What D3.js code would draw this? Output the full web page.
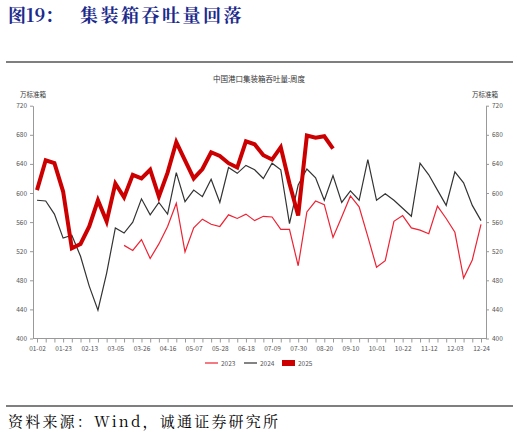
<!DOCTYPE html>
<html><head><meta charset="utf-8">
<script src="https://cdn.jsdelivr.net/npm/d3@7"></script>
<style>body{margin:0;background:#fff}</style>
</head><body>
<script>
var w = 519, h = 437;

// weekly dates (2024 calendar), 52 weeks
var parse = d3.timeParse("%Y-%m-%d"), fmt = d3.timeFormat("%m-%d");
var weeks = d3.range(52).map(function(i){ return fmt(d3.timeDay.offset(parse("2024-01-02"), i*7)); });
var yTicks = [400, 440, 480, 520, 560, 600, 640, 680, 720];

var s2023 = [null,null,null,null,null,null,null,null,null,null,
  528,521,536,510,530,554,586,519,552,564,557,554,570,565,571,562,568,567,550,550,
  500,574,589,584,539,567,596,581,540,498,507,561,569,552,549,544,582,565,546,483,508,557];
var s2024 = [590,589,571,538,542,513,472,439,490,552,545,560,592,570,587,571,628,588,604,595,
  619,587,635,627,638,632,620,641,632,558,611,633,621,590,624,587,603,590,646,590,
  599,590,579,568,641,625,604,583,629,614,583,562];
var s2025 = [604,645,641,602,524,530,554,590,561,613,594,625,620,632,595,628,670,645,620,633,
  656,651,641,635,671,667,652,646,663,613,569,679,676,678,661];

var svg = d3.select("body").append("svg").attr("width", w).attr("height", h);

var serif = "Noto Serif CJK SC, Noto Sans CJK SC, serif";
svg.append("text").attr("x", 8).attr("y", 22)
  .attr("font-family", serif).attr("font-weight", "bold").attr("font-size", 18).attr("fill", "#1c2a8c")
  .call(function(t){
    t.append("tspan").text("图19：");
    t.append("tspan").attr("x", 80).attr("letter-spacing", 2.5).text("集装箱吞吐量回落");
  });

svg.append("line").attr("x1", 6).attr("x2", 513).attr("y1", 62).attr("y2", 62)
  .attr("stroke", "#000").attr("stroke-width", 1.2);
svg.append("line").attr("x1", 6).attr("x2", 513).attr("y1", 406).attr("y2", 406)
  .attr("stroke", "#000").attr("stroke-width", 1.2);

svg.append("text").text("资料来源：Wind，诚通证券研究所")
  .attr("x", 8).attr("y", 427).attr("letter-spacing", 2.2)
  .attr("font-family", serif).attr("font-size", 15).attr("fill", "#000");

var x = d3.scalePoint().domain(weeks).range([37, 481]);
var y = d3.scaleLinear().domain([400, 720]).range([338.5, 105.7]);

var sans = "Noto Sans CJK SC, sans-serif";
svg.append("text").text("中国港口集装箱吞吐量:周度").attr("x", 259).attr("y", 82)
  .attr("text-anchor", "middle").attr("font-family", sans).attr("font-size", 7.5).attr("fill", "#333");
svg.append("text").text("万标准箱").attr("x", 20).attr("y", 97)
  .attr("font-family", sans).attr("font-size", 6.5).attr("fill", "#333");
svg.append("text").text("万标准箱").attr("x", 472).attr("y", 97)
  .attr("font-family", sans).attr("font-size", 6.5).attr("fill", "#333");

function styleAxis(g){
  g.selectAll("path,line").attr("stroke", "#999");
  g.selectAll("text").attr("fill", "#555").attr("font-size", 6.5).attr("font-family", sans);
}
svg.append("g").attr("transform", "translate(33,0)")
  .call(d3.axisLeft(y).tickValues(yTicks).tickSize(3).tickSizeOuter(0)).call(styleAxis);
svg.append("g").attr("transform", "translate(486,0)")
  .call(d3.axisRight(y).tickValues(yTicks).tickSize(3).tickSizeOuter(0)).call(styleAxis);
var xa = svg.append("g").attr("transform", "translate(0,338.5)")
  .call(d3.axisBottom(x).tickSize(4).tickFormat(function(d, i){ return i % 3 === 0 ? d : ""; }))
  .call(styleAxis);
xa.select(".domain").attr("d", "M33,0H486");
xa.selectAll("text").attr("dy", "0.9em");

var line = d3.line().defined(function(d){ return d != null; })
  .x(function(d, i){ return x(weeks[i]); }).y(function(d){ return y(d); });

var series = [
  {name: "2023", data: s2023, color: "#ee2233", width: 1.2},
  {name: "2024", data: s2024, color: "#333333", width: 1.2},
  {name: "2025", data: s2025, color: "#cc0000", width: 4}
];
series.forEach(function(s){
  svg.append("path").datum(s.data).attr("d", line).attr("fill", "none")
    .attr("stroke", s.color).attr("stroke-width", s.width).attr("stroke-linejoin", "miter");
});

var lg = svg.append("g").selectAll("g").data(series).enter().append("g")
  .attr("transform", function(d, i){ return "translate(" + [205, 244, 282][i] + ",363)"; });
lg.append("rect").attr("x", 0).attr("y", function(d){ return d.width > 2 ? -3 : -0.6; })
  .attr("width", 13).attr("height", function(d){ return d.width > 2 ? 6 : 1.2; })
  .attr("fill", function(d){ return d.color; });
lg.append("text").text(function(d){ return d.name; }).attr("x", 16).attr("y", 2.5)
  .attr("font-family", sans).attr("font-size", 6.5).attr("fill", "#555");
</script>
</body></html>
